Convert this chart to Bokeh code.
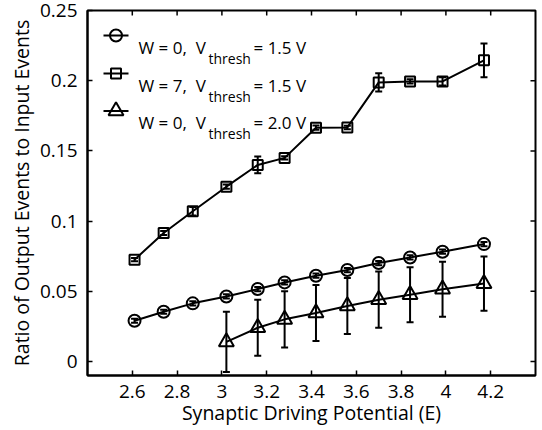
from bokeh.plotting import figure
from bokeh.models import (ColumnDataSource, Whisker, TeeHead, FixedTicker,
                          CustomJSTickFormatter, Label, Range1d)
from bokeh.embed import file_html
from bokeh.resources import INLINE

# ---------------- data ----------------
x_vals = [2.61, 2.74, 2.87, 3.02, 3.16, 3.28, 3.42, 3.56, 3.70, 3.84, 3.985, 4.17]
w0_v15 = [0.029, 0.0354, 0.0414, 0.0463, 0.0516, 0.0563, 0.0611, 0.0651, 0.0701, 0.0741, 0.0782, 0.0836]
w0_v15_err = [0.0015] * 12
w7_v15 = [0.0725, 0.0915, 0.107, 0.1245, 0.140, 0.145, 0.1665, 0.1667, 0.1988, 0.1995, 0.1995, 0.2145]
w7_v15_err = [0.0012, 0.0015, 0.003, 0.0015, 0.006, 0.0012, 0.0015, 0.0012, 0.0065, 0.0015, 0.003, 0.012]
x_v20 = [3.02, 3.16, 3.28, 3.42, 3.56, 3.70, 3.84, 3.985, 4.17]
w0_v20 = [0.014, 0.024, 0.030, 0.0345, 0.0395, 0.044, 0.0475, 0.0515, 0.0555]
w0_v20_err = [0.0215, 0.020, 0.020, 0.020, 0.020, 0.020, 0.0196, 0.0196, 0.0193]

x_ticks = [2.6, 2.8, 3.0, 3.2, 3.4, 3.6, 3.8, 4.0, 4.2]
y_ticks = [0, 0.05, 0.1, 0.15, 0.2, 0.25]
legend_main = ["W = 0,\u00a0 V", "W = 7,\u00a0 V", "W = 0,\u00a0 V"]
legend_sub = ["thresh", "thresh", "thresh"]
legend_tail = ["= 1.5 V", "= 1.5 V", "= 2.0 V"]
x_label = "Synaptic Driving Potential (E)"
y_label = "Ratio of Output Events to Input Events"

X_RANGE = (2.4, 4.4)
Y_RANGE = (-0.01, 0.25)

FONT = "Open Sans"

FRAME_W, FRAME_H = 448, 365
p = figure(width=538, height=430, output_backend="svg", toolbar_location=None,
           x_range=Range1d(*X_RANGE), y_range=Range1d(*Y_RANGE),
           min_border_left=87, min_border_right=3, min_border_top=10, min_border_bottom=55)
p.grid.visible = False
p.outline_line_color = "black"
p.outline_line_width = 2
p.background_fill_color = "white"
p.border_fill_color = "white"

fmt = CustomJSTickFormatter(code="return String(Math.round(tick*1000)/1000);")

xa = p.xaxis[0]
ya = p.yaxis[0]
xa.ticker = FixedTicker(ticks=x_ticks)
ya.ticker = FixedTicker(ticks=y_ticks)
for ax in (xa, ya):
    ax.formatter = fmt
    ax.axis_line_color = "black"
    ax.axis_line_width = 2
    ax.major_tick_in = 5
    ax.major_tick_out = 0
    ax.minor_tick_in = 0
    ax.minor_tick_out = 0
    ax.major_tick_line_color = "black"
    ax.major_tick_line_width = 1.5
    ax.major_label_text_font = FONT
    ax.major_label_text_font_size = "19px"
    ax.major_label_text_color = "black"
    ax.axis_label_text_font = FONT
    ax.axis_label_text_font_size = "19.5px"
    ax.axis_label_text_font_style = "normal"
    ax.axis_label_text_color = "black"
xa.major_label_standoff = 9
ya.major_label_standoff = 10
ya.major_label_text_line_height = 0.9
xa.axis_label = x_label
ya.axis_label = y_label
xa.axis_label_standoff = -2
ya.axis_label_standoff = 2

LW = 2

# helpers: pixel layout -> data units (for legend & mirror ticks only)
def dx_len(px):
    return px / FRAME_W * (X_RANGE[1] - X_RANGE[0])


def dy_len(px):
    return px / FRAME_H * (Y_RANGE[1] - Y_RANGE[0])


def dx(px_from_left):
    return X_RANGE[0] + dx_len(px_from_left)


def dy(px_from_top):
    return Y_RANGE[1] - dy_len(px_from_top)


# mirror ticks on top and right edges
p.segment(x0=x_ticks, y0=[Y_RANGE[1]] * len(x_ticks), x1=x_ticks,
          y1=[Y_RANGE[1] - dy_len(5)] * len(x_ticks), line_color="black", line_width=1.5)
p.segment(x0=[X_RANGE[1]] * len(y_ticks), y0=y_ticks, x1=[X_RANGE[1] - dx_len(5)] * len(y_ticks),
          y1=y_ticks, line_color="black", line_width=1.5)

# series
series = [
    (x_vals, w0_v15, w0_v15_err, "circle", 12),
    (x_vals, w7_v15, w7_v15_err, "square", 10),
    (x_v20, w0_v20, w0_v20_err, "triangle", 15),
]
for xs, ys, es, marker, size in series:
    src = ColumnDataSource(dict(x=xs, y=ys,
                                upper=[y + e for y, e in zip(ys, es)],
                                lower=[y - e for y, e in zip(ys, es)]))
    p.line("x", "y", source=src, line_color="black", line_width=LW)
    w = Whisker(base="x", upper="upper", lower="lower", source=src, dimension="height",
                line_color="black", line_width=LW,
                upper_head=TeeHead(size=7, line_color="black", line_width=LW),
                lower_head=TeeHead(size=7, line_color="black", line_width=LW))
    p.add_layout(w)
    p.scatter("x", "y", source=src, marker=marker, size=size, line_color="black",
              line_width=LW, fill_alpha=0)

# ---------------- legend (drawn by hand for the subscripts) ----------------
rows_px = [25.0, 63.0, 100.5]          # from frame top
for i, (_, _, _, marker, size) in enumerate(series):
    ry = rows_px[i]
    p.line([dx(16), dx(41)], [dy(ry), dy(ry)], line_color="black", line_width=LW)
    p.scatter([dx(28.5)], [dy(ry)], marker=marker, size=size, line_color="black",
              line_width=LW, fill_alpha=0)
    p.add_layout(Label(x=dx(51), y=dy(ry + 11.5), text=legend_main[i],
                       text_font=FONT, text_font_size="17px", text_color="black",
                       text_baseline="alphabetic"))
    p.add_layout(Label(x=dx(121), y=dy(ry + 22.5), text=legend_sub[i],
                       text_font=FONT, text_font_size="14px", text_color="black",
                       text_baseline="alphabetic"))
    p.add_layout(Label(x=dx(166), y=dy(ry + 11.5), text=legend_tail[i],
                       text_font=FONT, text_font_size="17px", text_color="black",
                       text_baseline="alphabetic"))

open("out.html", "w").write(file_html(p, INLINE))
